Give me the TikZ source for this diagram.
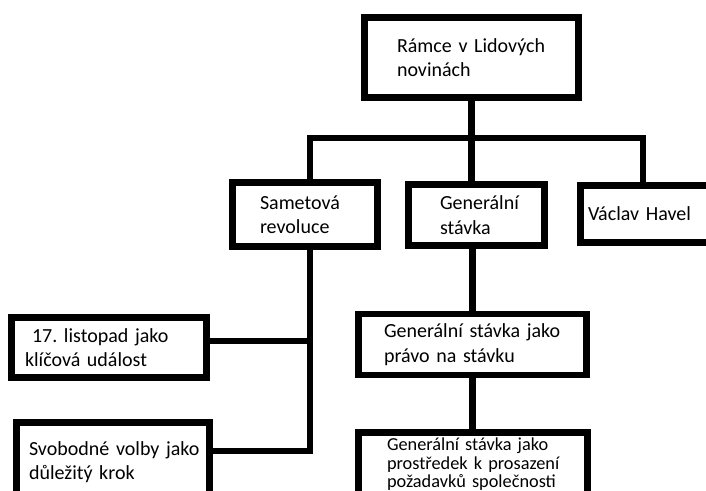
\documentclass[tikz,border=0pt]{standalone}
\usepackage{fontspec}
\setmainfont{Carlito}
\frenchspacing
\begin{document}
\begin{tikzpicture}[x=1pt,y=-1pt,
  box/.style={draw, line width=6.5pt, rectangle, align=left, inner ysep=0pt,
    font=\fontsize{20}{24.4}\selectfont},
  smallbox/.style={box, font=\fontsize{18.3}{18.5}\selectfont},
  conn/.style={line width=6.5pt, line join=miter}]
\useasboundingbox (0,0) rectangle (706,490);
\clip (0,0) rectangle (706,490);
\fill[white] (0,0) rectangle (706,490);

\node[box, minimum width=214pt, minimum height=80pt, text width=149pt, inner xsep=32.5pt]
  (top) at (471.5,57.5) {\mbox{Rámce v Lidových}\\\mbox{novinách}};
\node[box, minimum width=145pt, minimum height=64pt, text width=90pt, inner xsep=27.5pt]
  (sam) at (305,214.5) {\mbox{Sametová}\\\mbox{revoluce}};
\node[box, minimum width=136pt, minimum height=61pt, text width=73pt, inner xsep=31.5pt]
  (gen) at (476.5,215) {\mbox{Generální}\\\mbox{stávka}};
\node[box, minimum width=131pt, minimum height=57pt, text width=116pt, inner xsep=7.5pt]
  (hav) at (646,214) {\mbox{Václav Havel}};
\node[box, minimum width=195pt, minimum height=60pt, text width=168pt, inner xsep=13.5pt]
  (lis) at (109,347.5) {\mbox{\hspace*{7pt}17. listopad jako}\\\mbox{klíčová událost}};
\node[box, minimum width=193pt, minimum height=79pt, text width=168pt, inner xsep=12.5pt]
  (svo) at (113,462) {\mbox{Svobodné volby jako}\\\mbox{důležitý krok}};
\node[box, minimum width=228pt, minimum height=61pt, text width=177pt, inner xsep=25.5pt]
  (pra) at (472.5,344.5) {\mbox{Generální stávka jako}\\\mbox{právo na stávku}};
\node[smallbox, minimum width=229pt, minimum height=64pt, text width=172pt, inner xsep=28.5pt]
  (pro) at (473,464.5) {\mbox{Generální stávka jako}\\\mbox{prostředek k prosazení}\\\mbox{požadavků společnosti}};

\coordinate (jl) at (310,138);
\coordinate (jr) at (643,138);
\coordinate (lj) at (310,341);
\coordinate (sj) at (310,451);

\draw[conn] (top.south) -- (top.south |- gen.north);
\draw[conn] (jl |- sam.north) -- (jl) -- (jr) -- (jr |- hav.north);
\draw[conn] (jl |- sam.south) -- (sj) -- (svo.east |- sj);
\draw[conn] (lis.east |- lj) -- (lj);
\draw[conn] (pra.north) -- (pra.north |- gen.south);
\draw[conn] (pra.south) -- (pra.south |- pro.north);
\end{tikzpicture}
\end{document}
